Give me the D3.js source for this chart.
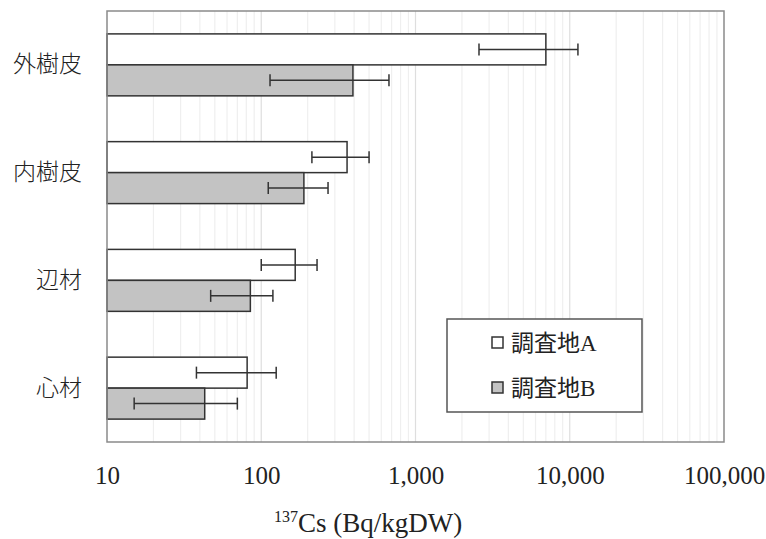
<!DOCTYPE html>
<html>
<head>
<meta charset="utf-8">
<script src="https://cdn.jsdelivr.net/npm/d3@7"></script>
<style>
  body { margin: 0; background: #fff; }
  text { font-family: "Liberation Serif", "Noto Sans CJK JP", serif; fill: #222; }
</style>
</head>
<body>
<div id="chart"></div>
<script>
// data
var parts = ["外樹皮", "内樹皮", "辺材", "心材"];
var sites = ["調査地A", "調査地B"];
var siteA = [7000, 360, 166, 81];
var siteB = [393, 189, 85, 43];
var siteALow = [2580, 213, 100, 38];
var siteAHigh = [11300, 500, 230, 125];
var siteBLow = [114, 111, 47, 15];
var siteBHigh = [673, 271, 119, 70];
var tickValues = [10, 100, 1000, 10000, 100000];

var svgWidth = 766;
var svgHeight = 539;
var margin = { top: 11, right: 42, bottom: 97, left: 107 };
var width = svgWidth - margin.left - margin.right;
var height = svgHeight - margin.top - margin.bottom;

var svg = d3.select("#chart")
    .append("svg")
    .attr("width", svgWidth)
    .attr("height", svgHeight);

var chartGroup = svg.append("g")
    .attr("transform", `translate(${margin.left}, ${margin.top})`);

// scales
var xScale = d3.scaleLog()
    .domain([10, 100000])
    .range([0, width]);

var yScale = d3.scaleBand()
    .domain(parts)
    .range([0, height])
    .paddingInner(0.425)
    .paddingOuter(0.2125);

var ySub = d3.scaleBand()
    .domain(sites)
    .range([0, yScale.bandwidth()]);

// gridlines (minor + major)
var gridVals = [];
for (var e = 10; e < 100000; e *= 10) {
    for (var k = 1; k < 10; k++) gridVals.push(e * k);
}
chartGroup.append("g")
    .selectAll("line")
    .data(gridVals.filter(d => d > 10))
    .enter()
    .append("line")
    .attr("x1", d => xScale(d))
    .attr("x2", d => xScale(d))
    .attr("y1", 0)
    .attr("y2", height)
    .attr("stroke", d => tickValues.indexOf(d) >= 0 ? "#dedede" : "#efefef")
    .attr("stroke-width", 1.2);

// bars
var rows = parts.map(function (p, i) {
    return [
        { part: p, site: sites[0], value: siteA[i], low: siteALow[i], high: siteAHigh[i], fill: "#ffffff" },
        { part: p, site: sites[1], value: siteB[i], low: siteBLow[i], high: siteBHigh[i], fill: "#c3c3c3" }
    ];
});
var flat = [].concat.apply([], rows);

chartGroup.selectAll("rect.bar")
    .data(flat)
    .enter()
    .append("rect")
    .attr("class", "bar")
    .attr("x", 0)
    .attr("y", d => yScale(d.part) + ySub(d.site))
    .attr("width", d => xScale(d.value))
    .attr("height", ySub.bandwidth())
    .attr("fill", d => d.fill)
    .attr("stroke", "#333")
    .attr("stroke-width", 1.5);

// error bars
var errGroup = chartGroup.selectAll("g.err")
    .data(flat)
    .enter()
    .append("g")
    .attr("class", "err")
    .attr("stroke", "#333")
    .attr("stroke-width", 1.5);

errGroup.append("line")
    .attr("x1", d => xScale(d.low))
    .attr("x2", d => xScale(d.high))
    .attr("y1", d => yScale(d.part) + ySub(d.site) + ySub.bandwidth() / 2)
    .attr("y2", d => yScale(d.part) + ySub(d.site) + ySub.bandwidth() / 2);

["low", "high"].forEach(function (key) {
    errGroup.append("line")
        .attr("x1", d => xScale(d[key]))
        .attr("x2", d => xScale(d[key]))
        .attr("y1", d => yScale(d.part) + ySub(d.site) + ySub.bandwidth() / 2 - 6)
        .attr("y2", d => yScale(d.part) + ySub(d.site) + ySub.bandwidth() / 2 + 6);
});

// plot border
chartGroup.append("rect")
    .attr("x", 0)
    .attr("y", 0)
    .attr("width", width)
    .attr("height", height)
    .attr("fill", "none")
    .attr("stroke", "#8a8a8a")
    .attr("stroke-width", 1.5);

// axes
var bottomAxis = d3.axisBottom(xScale)
    .tickValues(tickValues)
    .tickFormat(d3.format(","))
    .tickSize(0)
    .tickPadding(24);

var xAxis = chartGroup.append("g")
    .attr("transform", `translate(0, ${height})`)
    .call(bottomAxis);
xAxis.select(".domain").remove();
xAxis.selectAll("text")
    .attr("font-size", 25)
    .attr("font-family", "Liberation Serif, serif")
    .attr("fill", "#222");

var leftAxis = d3.axisLeft(yScale)
    .tickSize(0)
    .tickPadding(25);

var yAxis = chartGroup.append("g").call(leftAxis);
yAxis.select(".domain").remove();
yAxis.selectAll("text")
    .attr("font-size", 23)
    .attr("font-family", "Noto Sans CJK JP, sans-serif")
    .attr("font-weight", 300)
    .attr("fill", "#333");

// axis title
var title = svg.append("text")
    .attr("x", 368)
    .attr("y", 532)
    .attr("text-anchor", "middle")
    .attr("font-size", 27);
title.append("tspan")
    .attr("font-size", 16)
    .attr("dy", -10)
    .text("137");
title.append("tspan")
    .attr("dy", 10)
    .text("Cs (Bq/kgDW)");

// legend
var legend = svg.append("g")
    .attr("transform", "translate(447, 319)");
legend.append("rect")
    .attr("width", 195)
    .attr("height", 93)
    .attr("fill", "#fff")
    .attr("stroke", "#555")
    .attr("stroke-width", 1.5);

var legendItem = legend.selectAll("g.item")
    .data(sites)
    .enter()
    .append("g")
    .attr("class", "item")
    .attr("transform", (d, i) => `translate(45, ${24 + i * 45})`);

legendItem.append("rect")
    .attr("x", 0)
    .attr("y", -6)
    .attr("width", 11)
    .attr("height", 11)
    .attr("fill", (d, i) => i === 0 ? "#fff" : "#c3c3c3")
    .attr("stroke", "#333")
    .attr("stroke-width", 1.5);

legendItem.append("text")
    .attr("x", 19)
    .attr("y", 8)
    .attr("font-size", 23)
    .text(d => d);
</script>
</body>
</html>
